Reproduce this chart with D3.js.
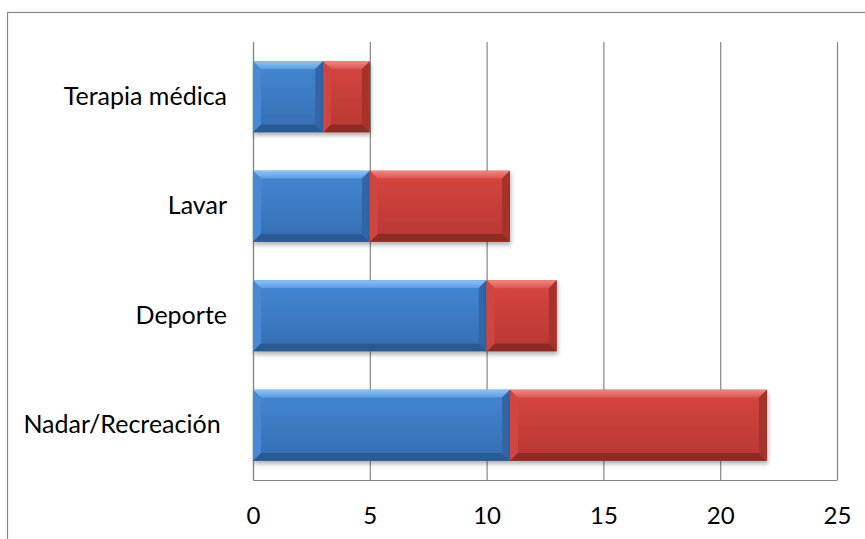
<!DOCTYPE html>
<html>
<head>
<meta charset="utf-8">
<script src="https://cdn.jsdelivr.net/npm/d3@7"></script>
<style>
  html, body { margin: 0; padding: 0; background: #fff; }
  svg { display: block; }
  text { font-family: Lato, "Open Sans", sans-serif; fill: #000; }
</style>
</head>
<body>
<svg id="chart" width="865" height="539"></svg>
<script>
// ---- data ----
const categories = ["Terapia médica", "Lavar", "Deporte", "Nadar/Recreación "];
const seriesBlue = [3, 5, 10, 11];
const seriesRed = [2, 6, 3, 11];
const xTicks = [0, 5, 10, 15, 20, 25];

const svg = d3.select("#chart");
const plot = { left: 253, right: 837, top: 42, bottom: 480 };

const x = d3.scaleLinear().domain([0, 25]).range([plot.left, plot.right]);
const y = d3.scaleBand().domain(categories).range([plot.top, plot.bottom])
  .paddingInner(0.35).paddingOuter(0.175);

// defs: shadow + gradients
const defs = svg.append("defs");
const f = defs.append("filter").attr("id", "shadow")
  .attr("x", "-10%").attr("y", "-10%").attr("width", "120%").attr("height", "140%");
f.append("feDropShadow").attr("dx", 1).attr("dy", 3).attr("stdDeviation", 2.2)
  .attr("flood-color", "#000").attr("flood-opacity", 0.3);

const palettes = {
  blue: { faceTop: "#4285d0", faceBot: "#3670b6", top: ["#8cc4f4", "#5c9be0"], left: "#4689d3", bottom: "#2c5a94", right: "#3366a8" },
  red:  { faceTop: "#d3443f", faceBot: "#bb3934", top: ["#f08884", "#dc5450"], left: "#d0453f", bottom: "#8e2a27", right: "#a6302c" }
};
Object.entries(palettes).forEach(([k, p]) => {
  const g = defs.append("linearGradient").attr("id", "face-" + k)
    .attr("x1", 0).attr("y1", 0).attr("x2", 0).attr("y2", 1);
  g.append("stop").attr("offset", "0%").attr("stop-color", p.faceTop);
  g.append("stop").attr("offset", "100%").attr("stop-color", p.faceBot);
  const t = defs.append("linearGradient").attr("id", "top-" + k)
    .attr("x1", 0).attr("y1", 0).attr("x2", 0).attr("y2", 1);
  t.append("stop").attr("offset", "0%").attr("stop-color", p.top[0]);
  t.append("stop").attr("offset", "100%").attr("stop-color", p.top[1]);
});

// outer frame
svg.append("rect").attr("x", 7.5).attr("y", 12.5).attr("width", 950).attr("height", 700)
  .attr("fill", "none").attr("stroke", "#868686").attr("stroke-width", 1.2);

// gridlines
svg.append("g").attr("transform", `translate(0,${plot.bottom})`)
  .call(d3.axisBottom(x).tickValues(xTicks).tickSize(-(plot.bottom - plot.top)).tickFormat(""))
  .call(g => g.select(".domain").remove())
  .call(g => g.selectAll("line").attr("stroke", "#868686").attr("stroke-width", 1.2));

// x axis
svg.append("g").attr("transform", `translate(0,${plot.bottom})`)
  .call(d3.axisBottom(x).tickValues(xTicks).tickSize(0).tickSizeOuter(0).tickPadding(27))
  .call(g => g.select(".domain").attr("stroke", "#868686").attr("stroke-width", 1.2))
  .call(g => g.selectAll("text").attr("font-size", 24).style("font-family", "Lato, 'Open Sans', sans-serif"));

// y axis
svg.append("g").attr("transform", `translate(${plot.left},0)`)
  .call(d3.axisLeft(y).tickSize(0).tickSizeOuter(0).tickPadding(26))
  .call(g => g.select(".domain").attr("stroke", "#868686").attr("stroke-width", 1.2))
  .call(g => g.selectAll("text").attr("font-size", 25).style("white-space", "pre")
    .style("font-family", "Lato, 'Open Sans', sans-serif"));

// stacked bars
const rows = categories.map((c, i) => ({ cat: c, blue: seriesBlue[i], red: seriesRed[i] }));
const stack = d3.stack().keys(["blue", "red"])(rows);

function bevel(g, x0, y0, w, h, k) {
  const p = palettes[k];
  const b = Math.min(8, w / 2, h / 2);
  const x1 = x0 + w, y1 = y0 + h;
  const grp = g.append("g").attr("filter", "url(#shadow)");
  grp.append("rect").attr("x", x0).attr("y", y0).attr("width", w).attr("height", h)
    .attr("fill", `url(#face-${k})`);
  const poly = (pts, fill) => grp.append("polygon")
    .attr("points", pts.map(q => q.join(",")).join(" ")).attr("fill", fill);
  poly([[x0, y0], [x1, y0], [x1 - b, y0 + b], [x0 + b, y0 + b]], `url(#top-${k})`);
  poly([[x0, y1], [x1, y1], [x1 - b, y1 - b], [x0 + b, y1 - b]], p.bottom);
  poly([[x0, y0], [x0 + b, y0 + b], [x0 + b, y1 - b], [x0, y1]], p.left);
  poly([[x1, y0], [x1 - b, y0 + b], [x1 - b, y1 - b], [x1, y1]], p.right);
  grp.append("rect").attr("x", x0 + b).attr("y", y0 + b).attr("width", Math.max(0, w - 2 * b))
    .attr("height", Math.max(0, h - 2 * b)).attr("fill", `url(#face-${k})`);
}

const barsG = svg.append("g");
stack.forEach(layer => {
  layer.forEach(d => {
    const x0 = x(d[0]), x1 = x(d[1]);
    bevel(barsG, x0, y(d.data.cat), x1 - x0, y.bandwidth(), layer.key);
  });
});
</script>
</body>
</html>
